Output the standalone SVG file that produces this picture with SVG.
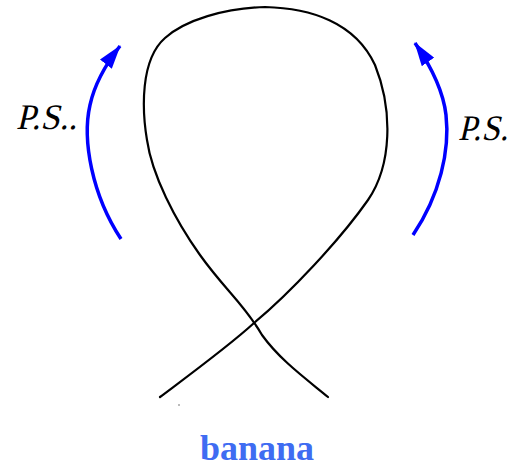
<svg xmlns="http://www.w3.org/2000/svg" width="515" height="468" viewBox="0 0 515 468">
<style>
.curve{fill:none;stroke:#000;stroke-width:2.2;stroke-linecap:round;stroke-linejoin:round}
.arrow{fill:none;stroke:#0000ff;stroke-width:3.5;marker-end:url(#head)}
.lbl{font-family:"Liberation Serif","Times New Roman",serif;font-size:36px;fill:#000}
.title{font-family:"Liberation Serif","Times New Roman",serif;font-weight:bold;font-size:36px;fill:#3f6cf2}
</style>
<defs>
<marker id="head" viewBox="0 0 24 15" refX="23" refY="7.5" markerUnits="userSpaceOnUse" markerWidth="24" markerHeight="15" orient="auto">
<path d="M0,0 L24,7.5 L0,15 Z" fill="#0000ff"/>
</marker>
</defs>
<rect width="515" height="468" fill="#fff"/>
<g id="loop">
<path class="curve" d="M160,397 C200,367 230,345 254,323 C290,293 340,240 368,200 C392,165 393,110 375,65 C355,22 310,8 265,7 C225,8 185,20 165,38 C140,60 142,110 147,140 C152,175 175,220 200,255 C225,290 245,305 262,335 C280,360 305,378 328,397"/>
<circle cx="179" cy="405" r="0.7" fill="#444"/>
</g>
<g id="connectors">
<path class="arrow" d="M121,239 C92,195 82,140 90,105 C95,82 106,64 120,46"/>
<path class="arrow" d="M413,235 C440,195 450,150 446,115 C443,88 428,62 415,43"/>
</g>
<g id="label-left" transform="translate(16,129) skewX(-13)"><text class="lbl" x="0" y="0" textLength="61" lengthAdjust="spacingAndGlyphs">P.S..</text></g>
<g id="label-right" transform="translate(458,140) skewX(-13)"><text class="lbl" x="0" y="0" textLength="50" lengthAdjust="spacingAndGlyphs">P.S.</text></g>
<g id="title"><text class="title" x="200" y="460">banana</text></g>
</svg>
